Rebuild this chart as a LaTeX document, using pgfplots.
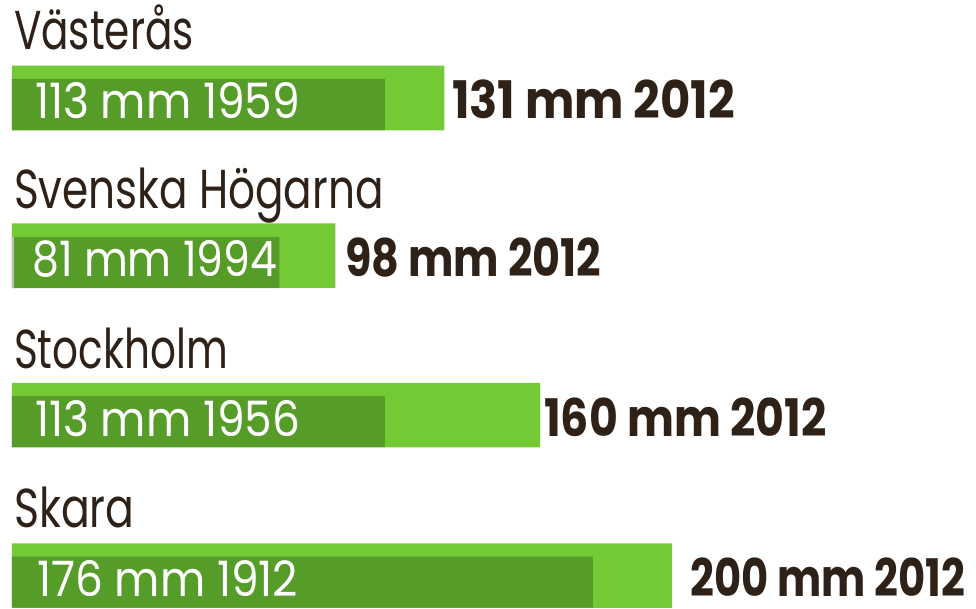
\documentclass[border=0pt]{standalone}
\usepackage{graphicx}
\usepackage{pgfplots}
\pgfplotsset{compat=1.18}
\usepackage{fontspec}
\setmainfont{Poppins}
\newfontfamily\cityfont[FakeStretch=0.74]{Poppins}
\newfontfamily\numfont[FakeStretch=0.9]{Poppins}
\definecolor{lightg}{HTML}{74CA35}
\definecolor{darkg}{HTML}{559C28}
\definecolor{txt}{HTML}{2E2118}
\begin{document}
\begin{tikzpicture}
\begin{axis}[
  scale only axis, width=976bp, height=609bp,
  hide axis, clip=false,
  xmin=-3.636, xmax=292.12, ymin=0, ymax=609, y dir=reverse,
  xbar, bar shift=0pt,
]
% 2012 values
\addplot[draw=none, fill=lightg, bar width=64.5] coordinates {(131,98) (98,255.5) (160,415) (200,575.5)};
% earlier records
\addplot[draw=none, fill=darkg, bar width=51] coordinates {(113,104.5) (81,262.5) (113,421.5) (176,582)};
\addplot[draw=none, fill=black!25, bar width=51] coordinates {(0.6,262.5)};
% city names
\begin{scope}[every node/.style={anchor=base west, inner sep=0pt, text depth=0pt, text=txt, font=\cityfont\fontsize{55}{60}\selectfont}]
\node at (axis cs:0.6,50) {Västerås};
\node at (axis cs:0.6,208) {\scalebox{1.04}[1]{Svenska Högarna}};
\node at (axis cs:0.6,368) {Stockholm};
\node at (axis cs:0.6,527) {\scalebox{1.05}[1]{Skara}};
\end{scope}
\begin{scope}[every node/.style={anchor=base west, inner sep=0pt, text depth=0pt, text=white, font=\numfont\fontsize{49}{54}\selectfont}]
\node at (axis cs:6.97,118) {113 mm 1959};
\node at (axis cs:6.06,276) {\scalebox{0.97}[1]{81 mm 1994}};
\node at (axis cs:6.97,436) {113 mm 1956};
\node at (axis cs:7.58,596) {176 mm 1912};
\end{scope}
\begin{scope}[every node/.style={anchor=base west, inner sep=0pt, text depth=0pt, text=txt, font=\numfont\bfseries\fontsize{52}{56}\selectfont}]
\node at (axis cs:133.3,118) {131 mm 2012};
\node at (axis cs:100.9,276) {\scalebox{0.92}[1]{98 mm 2012}};
\node at (axis cs:161.2,436) {\scalebox{0.95}[1]{160 mm 2012}};
\node at (axis cs:205.5,596) {\scalebox{0.895}[1]{200 mm 2012}};
\end{scope}
\end{axis}
\pgfresetboundingbox
\path[use as bounding box] (current axis.south west) rectangle (current axis.north east);
\end{tikzpicture}
\end{document}
